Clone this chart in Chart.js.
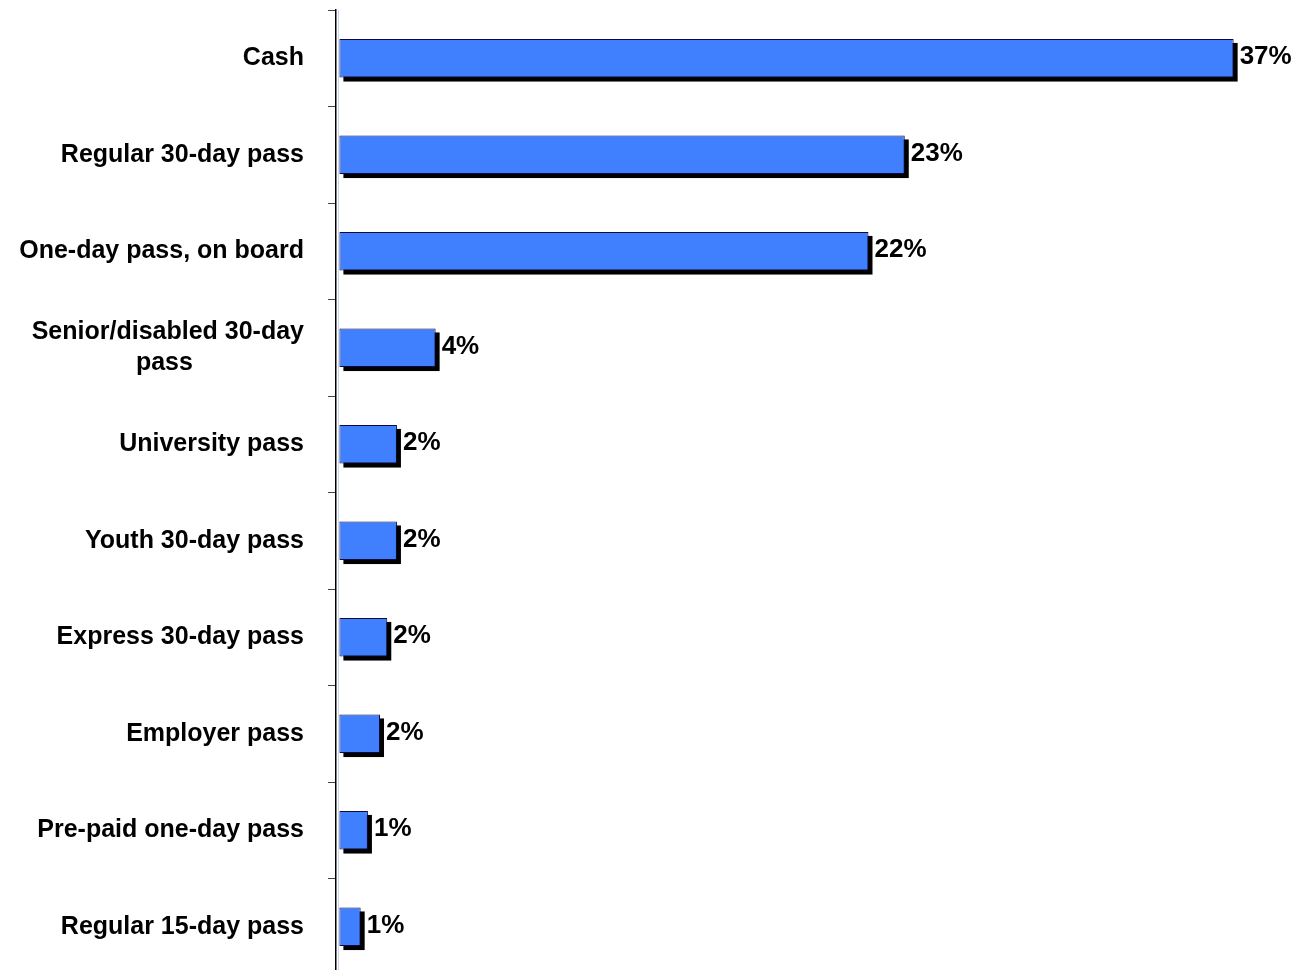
<!DOCTYPE html>
<html><head><meta charset="utf-8">
<script src="https://cdn.jsdelivr.net/npm/chart.js@4/dist/chart.umd.min.js"></script>
<style>html,body{margin:0;padding:0;background:#fff;overflow:hidden}canvas{display:block}</style>
</head><body>
<canvas id="c" width="1299" height="980"></canvas>
<script>
const categories = ['Cash', 'Regular 30-day pass', 'One-day pass, on board', ['Senior/disabled 30-day', 'pass'], 'University pass', 'Youth 30-day pass', 'Express 30-day pass', 'Employer pass', 'Pre-paid one-day pass', 'Regular 15-day pass'];
const shares = [37.0, 23.4, 21.9, 4.0, 2.4, 2.4, 2.0, 1.7, 1.2, 0.9];
const valueLabels = ['37%', '23%', '22%', '4%', '2%', '2%', '2%', '2%', '1%', '1%'];

const LABEL_FONT = 'bold 25px "Liberation Sans", Arial, sans-serif';
const VALUE_FONT = 'bold 26px "Liberation Sans", Arial, sans-serif';
const mctx = document.createElement('canvas').getContext('2d');
mctx.font = LABEL_FONT;

// Black drop shadow behind each bar, built from the bar elements' own geometry
const shadowPlugin = {
  id: 'barShadow',
  beforeDatasetDraw(chart, args) {
    const ctx = chart.ctx;
    const meta = chart.getDatasetMeta(args.index);
    ctx.save();
    ctx.fillStyle = '#000';
    meta.data.forEach(bar => {
      const left = Math.min(bar.base, bar.x);
      const w = Math.abs(bar.x - bar.base);
      ctx.fillRect(left + 4, bar.y - bar.height / 2 + 4, w, bar.height);
    });
    ctx.restore();
  }
};

const valuePlugin = {
  id: 'valueLabels',
  afterDatasetsDraw(chart) {
    const ctx = chart.ctx;
    const meta = chart.getDatasetMeta(0);
    ctx.save();
    ctx.font = VALUE_FONT;
    ctx.fillStyle = '#000';
    ctx.textAlign = 'left';
    ctx.textBaseline = 'middle';
    meta.data.forEach((bar, i) => {
      ctx.fillText(valueLabels[i], bar.x + 6, bar.y - 1);
    });
    ctx.restore();
  }
};

new Chart(document.getElementById('c'), {
  type: 'bar',
  data: {
    labels: categories,
    datasets: [{
      data: shares,
      backgroundColor: '#4080ff',
      borderColor: '#0a0a40',
      borderWidth: 1,
      borderSkipped: false,
      barPercentage: 0.4,
      categoryPercentage: 1.0
    }]
  },
  options: {
    indexAxis: 'y',
    responsive: false,
    animation: false,
    devicePixelRatio: 1,
    layout: { padding: { top: 10, bottom: 5, left: 0, right: 17 } },
    plugins: { legend: { display: false }, tooltip: { enabled: false } },
    scales: {
      x: {
        min: -0.12,
        max: 39,
        afterBuildTicks(scale) { scale.ticks = [{ value: 0 }]; },
        afterFit(scale) { scale.height = 0; scale.paddingLeft = 0; scale.paddingRight = 0; },
        ticks: { display: false },
        border: { display: false },
        grid: {
          drawTicks: false,
          color: (c) => (c.tick && c.tick.value === 0) ? '#c6d6f6' : 'rgba(0,0,0,0)'
        }
      },
      y: {
        afterFit(scale) { scale.width = 336; scale.paddingTop = 0; scale.paddingBottom = 0; },
        border: { display: true, color: '#000', width: 1.5 },
        grid: { drawOnChartArea: false, drawTicks: true, tickLength: 8, color: '#444', offset: true },
        ticks: {
          color: '#000',
          padding: 24,
          font: { family: '"Liberation Sans", Arial, sans-serif', size: 25, weight: 'bold', lineHeight: 1.25 },
          callback: function (value) {
            const lab = this.getLabelForValue(value);
            if (!Array.isArray(lab)) return lab;
            const widths = lab.map(s => mctx.measureText(s).width);
            const wMax = Math.max(...widths);
            const sp = mctx.measureText(' ').width;
            return lab.map((s, i) => s + ' '.repeat(Math.round((wMax - widths[i]) / 2 / sp)));
          }
        }
      }
    }
  },
  plugins: [shadowPlugin, valuePlugin]
});
</script>
</body></html>
